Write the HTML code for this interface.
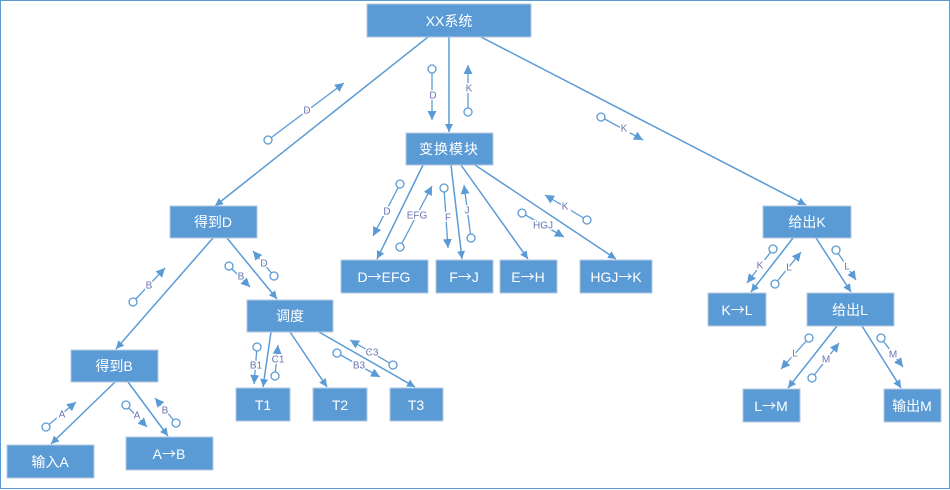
<!DOCTYPE html>
<html><head><meta charset="utf-8"><style>
body{margin:0;background:#fff}
svg{display:block}
.b{fill:#5b9bd5;stroke:#b4c9e0;stroke-width:1}
.t{fill:#fff;font-family:"Liberation Sans","Noto Sans CJK SC",sans-serif;font-size:14px;text-anchor:middle;dominant-baseline:central}
.r{font-family:"Noto Sans CJK SC",sans-serif}
.e{stroke:#5b9bd5;stroke-width:1.5;fill:none;marker-end:url(#a)}
.m{stroke:#5b9bd5;stroke-width:1.3;fill:none;marker-end:url(#a2)}
.c{stroke:#5b9bd5;stroke-width:1.3;fill:#fff}
.l{fill:#6a74b0;font-family:"Liberation Sans",sans-serif;font-size:10px;text-anchor:middle;dominant-baseline:central;stroke:#fff;stroke-width:3;paint-order:stroke}
</style></head><body>
<svg width="950" height="490" viewBox="0 0 950 490">
<defs>
<marker id="a" viewBox="0 0 10 10" refX="10" refY="5" markerWidth="8" markerHeight="8" markerUnits="userSpaceOnUse" orient="auto"><path d="M0,0L10,5L0,10z" fill="#5b9bd5"/></marker>
<marker id="a2" viewBox="0 0 10 10" refX="10" refY="5" markerWidth="9" markerHeight="9" markerUnits="userSpaceOnUse" orient="auto"><path d="M0,0L10,5L0,10z" fill="#5b9bd5"/></marker>
</defs>
<rect x="0.5" y="0.5" width="949" height="488" fill="none" stroke="#5b9bd5" stroke-width="1"/>
<line class="e" x1="428" y1="37" x2="215" y2="206"/>
<line class="e" x1="449" y1="37" x2="449" y2="132"/>
<line class="e" x1="481" y1="37" x2="806" y2="205"/>
<line class="e" x1="423" y1="165" x2="377" y2="259"/>
<line class="e" x1="451" y1="165" x2="462" y2="259"/>
<line class="e" x1="461" y1="165" x2="528" y2="259"/>
<line class="e" x1="475" y1="165" x2="616" y2="259"/>
<line class="e" x1="213" y1="238" x2="116" y2="349"/>
<line class="e" x1="227" y1="238" x2="277" y2="299"/>
<line class="e" x1="115" y1="382" x2="51" y2="444"/>
<line class="e" x1="128" y1="382" x2="168" y2="436"/>
<line class="e" x1="271" y1="332" x2="263" y2="387"/>
<line class="e" x1="290" y1="332" x2="327" y2="387"/>
<line class="e" x1="319" y1="332" x2="415" y2="387"/>
<line class="e" x1="793" y1="238" x2="751" y2="292"/>
<line class="e" x1="816" y1="238" x2="851" y2="292"/>
<line class="e" x1="837" y1="326" x2="788" y2="388"/>
<line class="e" x1="862" y1="326" x2="901" y2="388"/>
<g>
<line class="m" x1="268" y1="140" x2="344" y2="83"/><circle class="c" cx="268" cy="140" r="4"/><text class="l" x="307" y="111">D</text>
<line class="m" x1="432" y1="69" x2="432" y2="120"/><circle class="c" cx="432" cy="69" r="4"/><text class="l" x="433" y="96">D</text>
<line class="m" x1="468" y1="112" x2="468" y2="65"/><circle class="c" cx="468" cy="112" r="4"/><text class="l" x="469" y="89">K</text>
<line class="m" x1="601" y1="117" x2="643" y2="140"/><circle class="c" cx="601" cy="117" r="4"/><text class="l" x="624" y="129">K</text>
<line class="m" x1="400" y1="184" x2="373" y2="236"/><circle class="c" cx="400" cy="184" r="4"/><text class="l" x="387" y="212">D</text>
<line class="m" x1="400" y1="247" x2="432" y2="186"/><circle class="c" cx="400" cy="247" r="4"/><text class="l" x="417" y="216">EFG</text>
<line class="m" x1="444" y1="188" x2="448" y2="248"/><circle class="c" cx="444" cy="188" r="4"/><text class="l" x="448" y="218">F</text>
<line class="m" x1="471" y1="238" x2="464" y2="185"/><circle class="c" cx="471" cy="238" r="4"/><text class="l" x="467" y="211">J</text>
<line class="m" x1="522" y1="213" x2="564" y2="237"/><circle class="c" cx="522" cy="213" r="4"/><text class="l" x="543" y="226">HGJ</text>
<line class="m" x1="587" y1="220" x2="545" y2="195"/><circle class="c" cx="587" cy="220" r="4"/><text class="l" x="565" y="207">K</text>
<line class="m" x1="133" y1="302" x2="165" y2="268"/><circle class="c" cx="133" cy="302" r="4"/><text class="l" x="149" y="286">B</text>
<line class="m" x1="229" y1="266" x2="250" y2="287"/><circle class="c" cx="229" cy="266" r="4"/><text class="l" x="241" y="277">B</text>
<line class="m" x1="274" y1="276" x2="253" y2="251"/><circle class="c" cx="274" cy="276" r="4"/><text class="l" x="264" y="264">D</text>
<line class="m" x1="46" y1="427" x2="76" y2="402"/><circle class="c" cx="46" cy="427" r="4"/><text class="l" x="62" y="415">A</text>
<line class="m" x1="126" y1="405" x2="147" y2="427"/><circle class="c" cx="126" cy="405" r="4"/><text class="l" x="137" y="416">A</text>
<line class="m" x1="176" y1="423" x2="155" y2="398"/><circle class="c" cx="176" cy="423" r="4"/><text class="l" x="165" y="411">B</text>
<line class="m" x1="257" y1="347" x2="254" y2="384"/><circle class="c" cx="257" cy="347" r="4"/><text class="l" x="256" y="366">B1</text>
<line class="m" x1="275" y1="376" x2="278" y2="345"/><circle class="c" cx="275" cy="376" r="4"/><text class="l" x="278" y="360">C1</text>
<line class="m" x1="337" y1="353" x2="380" y2="377"/><circle class="c" cx="337" cy="353" r="4"/><text class="l" x="359" y="366">B3</text>
<line class="m" x1="393" y1="365" x2="350" y2="340"/><circle class="c" cx="393" cy="365" r="4"/><text class="l" x="372" y="353">C3</text>
<line class="m" x1="773" y1="249" x2="747" y2="283"/><circle class="c" cx="773" cy="249" r="4"/><text class="l" x="760" y="266">K</text>
<line class="m" x1="775" y1="284" x2="801" y2="252"/><circle class="c" cx="775" cy="284" r="4"/><text class="l" x="789" y="268">L</text>
<line class="m" x1="836" y1="250" x2="856" y2="280"/><circle class="c" cx="836" cy="250" r="4"/><text class="l" x="847" y="267">L</text>
<line class="m" x1="809" y1="338" x2="781" y2="369"/><circle class="c" cx="809" cy="338" r="4"/><text class="l" x="795" y="354">L</text>
<line class="m" x1="812" y1="378" x2="839" y2="343"/><circle class="c" cx="812" cy="378" r="4"/><text class="l" x="826" y="360">M</text>
<line class="m" x1="881" y1="338" x2="903" y2="367"/><circle class="c" cx="881" cy="338" r="4"/><text class="l" x="893" y="355">M</text>
</g>
<rect class="b" x="367" y="4" width="164" height="33"/><text class="t" x="449" y="21">XX系统</text>
<rect class="b" x="406" y="133" width="87" height="32"/><text class="t" x="449" y="149" letter-spacing="1">变换模块</text>
<rect class="b" x="170" y="206" width="87" height="32"/><text class="t" x="213" y="222">得到D</text>
<rect class="b" x="341" y="260" width="87" height="33"/><text class="t" x="384" y="277">D<tspan class="r">→</tspan>EFG</text>
<rect class="b" x="436" y="260" width="57" height="33"/><text class="t" x="464" y="277">F<tspan class="r">→</tspan>J</text>
<rect class="b" x="500" y="260" width="57" height="33"/><text class="t" x="528" y="277">E<tspan class="r">→</tspan>H</text>
<rect class="b" x="580" y="260" width="72" height="33"/><text class="t" x="616" y="277">HGJ<tspan class="r">→</tspan>K</text>
<rect class="b" x="247" y="300" width="86" height="32"/><text class="t" x="290" y="316">调度</text>
<rect class="b" x="71" y="350" width="87" height="32"/><text class="t" x="114" y="366">得到B</text>
<rect class="b" x="7" y="445" width="87" height="33"/><text class="t" x="50" y="462">输入A</text>
<rect class="b" x="126" y="437" width="87" height="33"/><text class="t" x="169" y="454">A<tspan class="r">→</tspan>B</text>
<rect class="b" x="236" y="388" width="54" height="33"/><text class="t" x="263" y="405">T1</text>
<rect class="b" x="313" y="388" width="54" height="33"/><text class="t" x="340" y="405">T2</text>
<rect class="b" x="390" y="388" width="53" height="33"/><text class="t" x="416" y="405">T3</text>
<rect class="b" x="763" y="206" width="88" height="32"/><text class="t" x="807" y="222">给出K</text>
<rect class="b" x="708" y="293" width="58" height="33"/><text class="t" x="737" y="310">K<tspan class="r">→</tspan>L</text>
<rect class="b" x="807" y="293" width="87" height="33"/><text class="t" x="850" y="310">给出L</text>
<rect class="b" x="743" y="389" width="57" height="33"/><text class="t" x="771" y="406">L<tspan class="r">→</tspan>M</text>
<rect class="b" x="884" y="389" width="57" height="33"/><text class="t" x="912" y="406">输出M</text>
</svg>
</body></html>
